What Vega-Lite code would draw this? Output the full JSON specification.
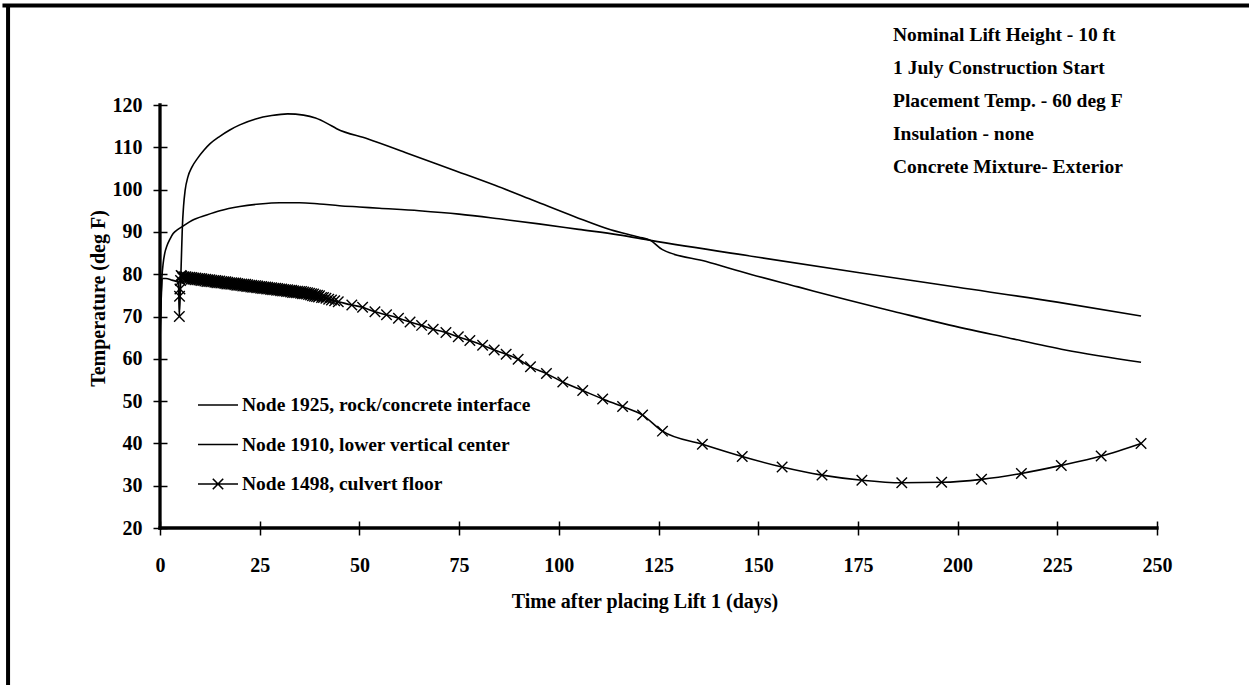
{
  "$schema": "https://vega.github.io/schema/vega-lite/v6.json",
  "width": 997,
  "height": 423,
  "autosize": {"type": "none"},
  "padding": {"left": 160, "top": 105, "right": 92, "bottom": 157},
  "background": "white",
  "config": {
    "view": {"stroke": null},
    "font": "Liberation Serif"
  },
  "title": {
    "text": ["Nominal Lift Height - 10 ft", "1 July Construction Start", "Placement Temp. - 60 deg F", "Insulation - none", "Concrete Mixture- Exterior"],
    "anchor": "start",
    "orient": "top",
    "frame": "group",
    "offset": -175,
    "dx": 733,
    "baseline": "top",
    "font": "Liberation Serif",
    "fontSize": 19.5,
    "fontWeight": "bold",
    "lineHeight": 33,
    "color": "black"
  },
  "datasets": {
    "temps": [
      {"series": "Node 1925, rock/concrete interface", "day": 0, "temp": 66},
      {"series": "Node 1925, rock/concrete interface", "day": 0.2, "temp": 73},
      {"series": "Node 1925, rock/concrete interface", "day": 0.5, "temp": 79.5},
      {"series": "Node 1925, rock/concrete interface", "day": 0.8, "temp": 82.6},
      {"series": "Node 1925, rock/concrete interface", "day": 1.2, "temp": 85},
      {"series": "Node 1925, rock/concrete interface", "day": 1.7, "temp": 86.6},
      {"series": "Node 1925, rock/concrete interface", "day": 2.5, "temp": 88.3},
      {"series": "Node 1925, rock/concrete interface", "day": 3.3, "temp": 89.6},
      {"series": "Node 1925, rock/concrete interface", "day": 4.5, "temp": 90.6},
      {"series": "Node 1925, rock/concrete interface", "day": 5.5, "temp": 91.2},
      {"series": "Node 1925, rock/concrete interface", "day": 8, "temp": 92.7},
      {"series": "Node 1925, rock/concrete interface", "day": 11.7, "temp": 94},
      {"series": "Node 1925, rock/concrete interface", "day": 15, "temp": 95},
      {"series": "Node 1925, rock/concrete interface", "day": 20, "temp": 96},
      {"series": "Node 1925, rock/concrete interface", "day": 25, "temp": 96.6},
      {"series": "Node 1925, rock/concrete interface", "day": 30, "temp": 96.9},
      {"series": "Node 1925, rock/concrete interface", "day": 35, "temp": 96.9},
      {"series": "Node 1925, rock/concrete interface", "day": 40, "temp": 96.6},
      {"series": "Node 1925, rock/concrete interface", "day": 45, "temp": 96.2},
      {"series": "Node 1925, rock/concrete interface", "day": 50, "temp": 95.9},
      {"series": "Node 1925, rock/concrete interface", "day": 55, "temp": 95.6},
      {"series": "Node 1925, rock/concrete interface", "day": 65, "temp": 95},
      {"series": "Node 1925, rock/concrete interface", "day": 75, "temp": 94.2},
      {"series": "Node 1925, rock/concrete interface", "day": 85, "temp": 93.1},
      {"series": "Node 1925, rock/concrete interface", "day": 95, "temp": 91.9},
      {"series": "Node 1925, rock/concrete interface", "day": 105, "temp": 90.6},
      {"series": "Node 1925, rock/concrete interface", "day": 115, "temp": 89.3},
      {"series": "Node 1925, rock/concrete interface", "day": 123, "temp": 88},
      {"series": "Node 1925, rock/concrete interface", "day": 150, "temp": 84},
      {"series": "Node 1925, rock/concrete interface", "day": 175, "temp": 80.4},
      {"series": "Node 1925, rock/concrete interface", "day": 200, "temp": 76.9},
      {"series": "Node 1925, rock/concrete interface", "day": 225, "temp": 73.4},
      {"series": "Node 1925, rock/concrete interface", "day": 246, "temp": 70.1},

      {"series": "Node 1910, lower vertical center", "day": 0, "temp": 64},
      {"series": "Node 1910, lower vertical center", "day": 0.3, "temp": 74},
      {"series": "Node 1910, lower vertical center", "day": 0.7, "temp": 79},
      {"series": "Node 1910, lower vertical center", "day": 1.5, "temp": 79},
      {"series": "Node 1910, lower vertical center", "day": 3, "temp": 78.6},
      {"series": "Node 1910, lower vertical center", "day": 4.6, "temp": 78.1},
      {"series": "Node 1910, lower vertical center", "day": 4.85, "temp": 71},
      {"series": "Node 1910, lower vertical center", "day": 5.1, "temp": 76},
      {"series": "Node 1910, lower vertical center", "day": 5.4, "temp": 85},
      {"series": "Node 1910, lower vertical center", "day": 5.6, "temp": 91},
      {"series": "Node 1910, lower vertical center", "day": 5.9, "temp": 96},
      {"series": "Node 1910, lower vertical center", "day": 6.3, "temp": 99.8},
      {"series": "Node 1910, lower vertical center", "day": 7, "temp": 103},
      {"series": "Node 1910, lower vertical center", "day": 8, "temp": 105.3},
      {"series": "Node 1910, lower vertical center", "day": 9.5, "temp": 107.5},
      {"series": "Node 1910, lower vertical center", "day": 11, "temp": 109.3},
      {"series": "Node 1910, lower vertical center", "day": 12.5, "temp": 110.8},
      {"series": "Node 1910, lower vertical center", "day": 15, "temp": 112.6},
      {"series": "Node 1910, lower vertical center", "day": 17.5, "temp": 114.1},
      {"series": "Node 1910, lower vertical center", "day": 20, "temp": 115.3},
      {"series": "Node 1910, lower vertical center", "day": 24, "temp": 116.7},
      {"series": "Node 1910, lower vertical center", "day": 28, "temp": 117.5},
      {"series": "Node 1910, lower vertical center", "day": 32, "temp": 117.9},
      {"series": "Node 1910, lower vertical center", "day": 36, "temp": 117.6},
      {"series": "Node 1910, lower vertical center", "day": 39, "temp": 116.9},
      {"series": "Node 1910, lower vertical center", "day": 42, "temp": 115.6},
      {"series": "Node 1910, lower vertical center", "day": 44.3, "temp": 114.4},
      {"series": "Node 1910, lower vertical center", "day": 52, "temp": 112},
      {"series": "Node 1910, lower vertical center", "day": 62, "temp": 108.6},
      {"series": "Node 1910, lower vertical center", "day": 73, "temp": 104.8},
      {"series": "Node 1910, lower vertical center", "day": 84, "temp": 101},
      {"series": "Node 1910, lower vertical center", "day": 94, "temp": 97.3},
      {"series": "Node 1910, lower vertical center", "day": 104, "temp": 93.6},
      {"series": "Node 1910, lower vertical center", "day": 113, "temp": 90.5},
      {"series": "Node 1910, lower vertical center", "day": 120, "temp": 88.8},
      {"series": "Node 1910, lower vertical center", "day": 123, "temp": 88},
      {"series": "Node 1910, lower vertical center", "day": 126, "temp": 85.8},
      {"series": "Node 1910, lower vertical center", "day": 137, "temp": 83},
      {"series": "Node 1910, lower vertical center", "day": 148, "temp": 80},
      {"series": "Node 1910, lower vertical center", "day": 160, "temp": 77},
      {"series": "Node 1910, lower vertical center", "day": 172, "temp": 74},
      {"series": "Node 1910, lower vertical center", "day": 184, "temp": 71.2},
      {"series": "Node 1910, lower vertical center", "day": 197, "temp": 68.2},
      {"series": "Node 1910, lower vertical center", "day": 212, "temp": 65.1},
      {"series": "Node 1910, lower vertical center", "day": 227, "temp": 62.1},
      {"series": "Node 1910, lower vertical center", "day": 246, "temp": 59.2},

      {"series": "Node 1498, culvert floor", "day": 4.85, "temp": 70},
      {"series": "Node 1498, culvert floor", "day": 4.9, "temp": 74.8},
      {"series": "Node 1498, culvert floor", "day": 5.0, "temp": 76.5},
      {"series": "Node 1498, culvert floor", "day": 5.15, "temp": 78.5},
      {"series": "Node 1498, culvert floor", "day": 5.3, "temp": 79.7},
      {"series": "Node 1498, culvert floor", "day": 5.5, "temp": 79.5},
      {"series": "Node 1498, culvert floor", "day": 5.75, "temp": 79.1},
      {"series": "Node 1498, culvert floor", "day": 6.0, "temp": 79.4},
      {"series": "Node 1498, culvert floor", "day": 6.25, "temp": 79.0},
      {"series": "Node 1498, culvert floor", "day": 6.5, "temp": 79.4},
      {"series": "Node 1498, culvert floor", "day": 6.75, "temp": 79.0},
      {"series": "Node 1498, culvert floor", "day": 7.0, "temp": 79.3},
      {"series": "Node 1498, culvert floor", "day": 7.25, "temp": 78.9},
      {"series": "Node 1498, culvert floor", "day": 7.5, "temp": 79.3},
      {"series": "Node 1498, culvert floor", "day": 7.75, "temp": 78.8},
      {"series": "Node 1498, culvert floor", "day": 8.0, "temp": 79.2},
      {"series": "Node 1498, culvert floor", "day": 8.25, "temp": 78.8},
      {"series": "Node 1498, culvert floor", "day": 8.5, "temp": 79.1},
      {"series": "Node 1498, culvert floor", "day": 8.75, "temp": 78.7},
      {"series": "Node 1498, culvert floor", "day": 9.0, "temp": 79.1},
      {"series": "Node 1498, culvert floor", "day": 9.25, "temp": 78.7},
      {"series": "Node 1498, culvert floor", "day": 9.5, "temp": 79.0},
      {"series": "Node 1498, culvert floor", "day": 9.75, "temp": 78.6},
      {"series": "Node 1498, culvert floor", "day": 10.0, "temp": 79.0},
      {"series": "Node 1498, culvert floor", "day": 10.25, "temp": 78.5},
      {"series": "Node 1498, culvert floor", "day": 10.5, "temp": 78.9},
      {"series": "Node 1498, culvert floor", "day": 10.75, "temp": 78.5},
      {"series": "Node 1498, culvert floor", "day": 11.0, "temp": 78.8},
      {"series": "Node 1498, culvert floor", "day": 11.25, "temp": 78.4},
      {"series": "Node 1498, culvert floor", "day": 11.5, "temp": 78.8},
      {"series": "Node 1498, culvert floor", "day": 11.75, "temp": 78.3},
      {"series": "Node 1498, culvert floor", "day": 12.0, "temp": 78.7},
      {"series": "Node 1498, culvert floor", "day": 12.25, "temp": 78.3},
      {"series": "Node 1498, culvert floor", "day": 12.5, "temp": 78.7},
      {"series": "Node 1498, culvert floor", "day": 12.75, "temp": 78.2},
      {"series": "Node 1498, culvert floor", "day": 13.0, "temp": 78.6},
      {"series": "Node 1498, culvert floor", "day": 13.25, "temp": 78.2},
      {"series": "Node 1498, culvert floor", "day": 13.5, "temp": 78.5},
      {"series": "Node 1498, culvert floor", "day": 13.75, "temp": 78.1},
      {"series": "Node 1498, culvert floor", "day": 14.0, "temp": 78.5},
      {"series": "Node 1498, culvert floor", "day": 14.25, "temp": 78.0},
      {"series": "Node 1498, culvert floor", "day": 14.5, "temp": 78.4},
      {"series": "Node 1498, culvert floor", "day": 14.75, "temp": 78.0},
      {"series": "Node 1498, culvert floor", "day": 15.0, "temp": 78.4},
      {"series": "Node 1498, culvert floor", "day": 15.25, "temp": 77.9},
      {"series": "Node 1498, culvert floor", "day": 15.5, "temp": 78.3},
      {"series": "Node 1498, culvert floor", "day": 15.75, "temp": 77.9},
      {"series": "Node 1498, culvert floor", "day": 16.0, "temp": 78.2},
      {"series": "Node 1498, culvert floor", "day": 16.25, "temp": 77.8},
      {"series": "Node 1498, culvert floor", "day": 16.5, "temp": 78.2},
      {"series": "Node 1498, culvert floor", "day": 16.75, "temp": 77.7},
      {"series": "Node 1498, culvert floor", "day": 17.0, "temp": 78.1},
      {"series": "Node 1498, culvert floor", "day": 17.25, "temp": 77.7},
      {"series": "Node 1498, culvert floor", "day": 17.5, "temp": 78.0},
      {"series": "Node 1498, culvert floor", "day": 17.75, "temp": 77.6},
      {"series": "Node 1498, culvert floor", "day": 18.0, "temp": 78.0},
      {"series": "Node 1498, culvert floor", "day": 18.25, "temp": 77.6},
      {"series": "Node 1498, culvert floor", "day": 18.5, "temp": 77.9},
      {"series": "Node 1498, culvert floor", "day": 18.75, "temp": 77.5},
      {"series": "Node 1498, culvert floor", "day": 19.0, "temp": 77.9},
      {"series": "Node 1498, culvert floor", "day": 19.25, "temp": 77.4},
      {"series": "Node 1498, culvert floor", "day": 19.5, "temp": 77.8},
      {"series": "Node 1498, culvert floor", "day": 19.75, "temp": 77.4},
      {"series": "Node 1498, culvert floor", "day": 20.0, "temp": 77.7},
      {"series": "Node 1498, culvert floor", "day": 20.25, "temp": 77.3},
      {"series": "Node 1498, culvert floor", "day": 20.5, "temp": 77.7},
      {"series": "Node 1498, culvert floor", "day": 20.75, "temp": 77.2},
      {"series": "Node 1498, culvert floor", "day": 21.0, "temp": 77.6},
      {"series": "Node 1498, culvert floor", "day": 21.25, "temp": 77.2},
      {"series": "Node 1498, culvert floor", "day": 21.5, "temp": 77.6},
      {"series": "Node 1498, culvert floor", "day": 21.75, "temp": 77.1},
      {"series": "Node 1498, culvert floor", "day": 22.0, "temp": 77.5},
      {"series": "Node 1498, culvert floor", "day": 22.25, "temp": 77.1},
      {"series": "Node 1498, culvert floor", "day": 22.5, "temp": 77.4},
      {"series": "Node 1498, culvert floor", "day": 22.75, "temp": 77.0},
      {"series": "Node 1498, culvert floor", "day": 23.0, "temp": 77.4},
      {"series": "Node 1498, culvert floor", "day": 23.25, "temp": 76.9},
      {"series": "Node 1498, culvert floor", "day": 23.5, "temp": 77.3},
      {"series": "Node 1498, culvert floor", "day": 23.75, "temp": 76.9},
      {"series": "Node 1498, culvert floor", "day": 24.0, "temp": 77.3},
      {"series": "Node 1498, culvert floor", "day": 24.25, "temp": 76.8},
      {"series": "Node 1498, culvert floor", "day": 24.5, "temp": 77.2},
      {"series": "Node 1498, culvert floor", "day": 24.75, "temp": 76.8},
      {"series": "Node 1498, culvert floor", "day": 25.0, "temp": 77.1},
      {"series": "Node 1498, culvert floor", "day": 25.25, "temp": 76.7},
      {"series": "Node 1498, culvert floor", "day": 25.5, "temp": 77.1},
      {"series": "Node 1498, culvert floor", "day": 25.75, "temp": 76.6},
      {"series": "Node 1498, culvert floor", "day": 26.0, "temp": 77.0},
      {"series": "Node 1498, culvert floor", "day": 26.25, "temp": 76.6},
      {"series": "Node 1498, culvert floor", "day": 26.5, "temp": 77.0},
      {"series": "Node 1498, culvert floor", "day": 26.75, "temp": 76.5},
      {"series": "Node 1498, culvert floor", "day": 27.0, "temp": 76.9},
      {"series": "Node 1498, culvert floor", "day": 27.25, "temp": 76.5},
      {"series": "Node 1498, culvert floor", "day": 27.5, "temp": 76.8},
      {"series": "Node 1498, culvert floor", "day": 27.75, "temp": 76.4},
      {"series": "Node 1498, culvert floor", "day": 28.0, "temp": 76.8},
      {"series": "Node 1498, culvert floor", "day": 28.25, "temp": 76.3},
      {"series": "Node 1498, culvert floor", "day": 28.5, "temp": 76.7},
      {"series": "Node 1498, culvert floor", "day": 28.75, "temp": 76.3},
      {"series": "Node 1498, culvert floor", "day": 29.0, "temp": 76.7},
      {"series": "Node 1498, culvert floor", "day": 29.25, "temp": 76.2},
      {"series": "Node 1498, culvert floor", "day": 29.5, "temp": 76.6},
      {"series": "Node 1498, culvert floor", "day": 29.75, "temp": 76.2},
      {"series": "Node 1498, culvert floor", "day": 30.0, "temp": 76.5},
      {"series": "Node 1498, culvert floor", "day": 30.25, "temp": 76.1},
      {"series": "Node 1498, culvert floor", "day": 30.5, "temp": 76.5},
      {"series": "Node 1498, culvert floor", "day": 30.75, "temp": 76.0},
      {"series": "Node 1498, culvert floor", "day": 31.0, "temp": 76.4},
      {"series": "Node 1498, culvert floor", "day": 31.25, "temp": 76.0},
      {"series": "Node 1498, culvert floor", "day": 31.5, "temp": 76.3},
      {"series": "Node 1498, culvert floor", "day": 31.75, "temp": 75.9},
      {"series": "Node 1498, culvert floor", "day": 32.0, "temp": 76.3},
      {"series": "Node 1498, culvert floor", "day": 32.25, "temp": 75.9},
      {"series": "Node 1498, culvert floor", "day": 32.5, "temp": 76.2},
      {"series": "Node 1498, culvert floor", "day": 32.75, "temp": 75.8},
      {"series": "Node 1498, culvert floor", "day": 33.0, "temp": 76.2},
      {"series": "Node 1498, culvert floor", "day": 33.25, "temp": 75.7},
      {"series": "Node 1498, culvert floor", "day": 33.5, "temp": 76.1},
      {"series": "Node 1498, culvert floor", "day": 33.75, "temp": 75.7},
      {"series": "Node 1498, culvert floor", "day": 34.0, "temp": 76.0},
      {"series": "Node 1498, culvert floor", "day": 34.25, "temp": 75.6},
      {"series": "Node 1498, culvert floor", "day": 34.5, "temp": 76.0},
      {"series": "Node 1498, culvert floor", "day": 34.75, "temp": 75.6},
      {"series": "Node 1498, culvert floor", "day": 35.0, "temp": 75.9},
      {"series": "Node 1498, culvert floor", "day": 35.25, "temp": 75.5},
      {"series": "Node 1498, culvert floor", "day": 35.5, "temp": 75.9},
      {"series": "Node 1498, culvert floor", "day": 35.75, "temp": 75.4},
      {"series": "Node 1498, culvert floor", "day": 36.0, "temp": 75.8},
      {"series": "Node 1498, culvert floor", "day": 36.25, "temp": 75.4},
      {"series": "Node 1498, culvert floor", "day": 36.5, "temp": 75.7},
      {"series": "Node 1498, culvert floor", "day": 36.75, "temp": 75.3},
      {"series": "Node 1498, culvert floor", "day": 37.0, "temp": 75.6},
      {"series": "Node 1498, culvert floor", "day": 37.25, "temp": 75.2},
      {"series": "Node 1498, culvert floor", "day": 37.5, "temp": 75.5},
      {"series": "Node 1498, culvert floor", "day": 37.75, "temp": 75.1},
      {"series": "Node 1498, culvert floor", "day": 38.0, "temp": 75.4},
      {"series": "Node 1498, culvert floor", "day": 38.25, "temp": 74.9},
      {"series": "Node 1498, culvert floor", "day": 38.5, "temp": 75.3},
      {"series": "Node 1498, culvert floor", "day": 38.75, "temp": 74.8},
      {"series": "Node 1498, culvert floor", "day": 39.0, "temp": 75.1},
      {"series": "Node 1498, culvert floor", "day": 39.25, "temp": 74.7},
      {"series": "Node 1498, culvert floor", "day": 39.5, "temp": 75.0},
      {"series": "Node 1498, culvert floor", "day": 39.75, "temp": 74.6},
      {"series": "Node 1498, culvert floor", "day": 40.0, "temp": 74.9},
      {"series": "Node 1498, culvert floor", "day": 40.5, "temp": 74.5},
      {"series": "Node 1498, culvert floor", "day": 41.0, "temp": 74.5},
      {"series": "Node 1498, culvert floor", "day": 41.6, "temp": 74.3},
      {"series": "Node 1498, culvert floor", "day": 42.3, "temp": 74.1},
      {"series": "Node 1498, culvert floor", "day": 43.0, "temp": 73.9},
      {"series": "Node 1498, culvert floor", "day": 43.8, "temp": 73.7},
      {"series": "Node 1498, culvert floor", "day": 44.7, "temp": 73.5},
      {"series": "Node 1498, culvert floor", "day": 48.1, "temp": 72.7},
      {"series": "Node 1498, culvert floor", "day": 50.8, "temp": 72.2},
      {"series": "Node 1498, culvert floor", "day": 53.9, "temp": 71.1},
      {"series": "Node 1498, culvert floor", "day": 56.8, "temp": 70.4},
      {"series": "Node 1498, culvert floor", "day": 59.8, "temp": 69.6},
      {"series": "Node 1498, culvert floor", "day": 62.7, "temp": 68.7},
      {"series": "Node 1498, culvert floor", "day": 65.6, "temp": 67.9},
      {"series": "Node 1498, culvert floor", "day": 68.5, "temp": 67.0},
      {"series": "Node 1498, culvert floor", "day": 71.7, "temp": 66.2},
      {"series": "Node 1498, culvert floor", "day": 74.8, "temp": 65.2},
      {"series": "Node 1498, culvert floor", "day": 77.7, "temp": 64.3},
      {"series": "Node 1498, culvert floor", "day": 80.9, "temp": 63.2},
      {"series": "Node 1498, culvert floor", "day": 83.8, "temp": 62.1},
      {"series": "Node 1498, culvert floor", "day": 86.8, "temp": 61.1},
      {"series": "Node 1498, culvert floor", "day": 89.8, "temp": 59.9},
      {"series": "Node 1498, culvert floor", "day": 92.9, "temp": 58.1},
      {"series": "Node 1498, culvert floor", "day": 96.9, "temp": 56.5},
      {"series": "Node 1498, culvert floor", "day": 101, "temp": 54.5},
      {"series": "Node 1498, culvert floor", "day": 106, "temp": 52.5},
      {"series": "Node 1498, culvert floor", "day": 111, "temp": 50.5},
      {"series": "Node 1498, culvert floor", "day": 116, "temp": 48.7},
      {"series": "Node 1498, culvert floor", "day": 121, "temp": 46.7},
      {"series": "Node 1498, culvert floor", "day": 126, "temp": 42.9},
      {"series": "Node 1498, culvert floor", "day": 136, "temp": 39.8},
      {"series": "Node 1498, culvert floor", "day": 146, "temp": 36.9},
      {"series": "Node 1498, culvert floor", "day": 156, "temp": 34.4},
      {"series": "Node 1498, culvert floor", "day": 166, "temp": 32.5},
      {"series": "Node 1498, culvert floor", "day": 176, "temp": 31.3},
      {"series": "Node 1498, culvert floor", "day": 186, "temp": 30.7},
      {"series": "Node 1498, culvert floor", "day": 196, "temp": 30.8},
      {"series": "Node 1498, culvert floor", "day": 206, "temp": 31.5},
      {"series": "Node 1498, culvert floor", "day": 216, "temp": 32.9},
      {"series": "Node 1498, culvert floor", "day": 226, "temp": 34.8},
      {"series": "Node 1498, culvert floor", "day": 236, "temp": 37.0},
      {"series": "Node 1498, culvert floor", "day": 246, "temp": 40.0}
    ]
  },
  "data": {"name": "temps"},
  "layer": [
    {
      "data": {"values": [{}]},
      "mark": {"type": "rule", "clip": false, "color": "black", "strokeWidth": 4, "strokeCap": "square"},
      "encoding": {
        "x": {"datum": -39, "type": "quantitative"},
        "x2": {"datum": 300},
        "y": {"datum": 143.5, "type": "quantitative"}
      }
    },
    {
      "data": {"values": [{}]},
      "mark": {"type": "rule", "clip": false, "color": "black", "strokeWidth": 4},
      "encoding": {
        "x": {"datum": -38.1, "type": "quantitative"},
        "y": {"datum": 143.5, "type": "quantitative"},
        "y2": {"datum": -20}
      }
    },
    {
      "data": {"values": [{}]},
      "mark": {"type": "rule", "color": "black", "strokeWidth": 3.3, "strokeCap": "square"},
      "encoding": {"x": {"datum": 0, "type": "quantitative"}}
    },
    {
      "data": {"values": [{}]},
      "mark": {"type": "rule", "color": "black", "strokeWidth": 3.3, "strokeCap": "square"},
      "encoding": {"y": {"datum": 20, "type": "quantitative"}}
    },
    {
      "mark": {"type": "line", "strokeWidth": 1.6, "interpolate": "monotone"},
      "encoding": {
        "x": {
          "field": "day", "type": "quantitative",
          "scale": {"domain": [0, 250], "nice": false, "zero": false},
          "axis": {
            "values": [0, 25, 50, 75, 100, 125, 150, 175, 200, 225, 250],
            "domain": false, "grid": false, "offset": -7,
            "tickSize": 14, "tickWidth": 1.5, "tickColor": "black",
            "labelFont": "Liberation Serif", "labelFontSize": 20, "labelFontWeight": "bold", "labelColor": "black",
            "labelPadding": 20, "labelFlush": false, "labelOverlap": false,
            "title": "Time after placing Lift 1 (days)",
            "titleFont": "Liberation Serif", "titleFontSize": 20, "titleFontWeight": "bold", "titleColor": "black",
            "titleX": 484.5, "titleY": 86, "titleBaseline": "alphabetic", "titleAlign": "center"
          }
        },
        "y": {
          "field": "temp", "type": "quantitative",
          "scale": {"domain": [20, 120], "nice": false, "zero": false},
          "axis": {
            "values": [20, 30, 40, 50, 60, 70, 80, 90, 100, 110, 120],
            "domain": false, "grid": false, "offset": -7,
            "tickSize": 14, "tickWidth": 1.5, "tickColor": "black",
            "labelFont": "Liberation Serif", "labelFontSize": 20, "labelFontWeight": "bold", "labelColor": "black",
            "labelPadding": 11, "labelFlush": false, "labelOverlap": false,
            "title": "Temperature (deg F)",
            "titleFont": "Liberation Serif", "titleFontSize": 20, "titleFontWeight": "bold", "titleColor": "black",
            "titleX": -69, "titleY": 193, "titleBaseline": "middle", "titleAlign": "center", "titleAngle": -90
          }
        },
        "color": {
          "field": "series", "type": "nominal",
          "scale": {
            "domain": ["Node 1925, rock/concrete interface", "Node 1910, lower vertical center", "Node 1498, culvert floor"],
            "range": ["black", "black", "black"]
          },
          "legend": {
            "orient": "none", "legendX": 37, "legendY": 279, "title": null, "padding": 0,
            "symbolType": "stroke", "symbolSize": 1600, "symbolStrokeWidth": 1.6, "symbolStrokeColor": "black",
            "labelFont": "Liberation Serif", "labelFontSize": 19.5, "labelFontWeight": "bold", "labelColor": "black",
            "labelOffset": 3, "rowPadding": 8.5,
            "labelLimit": 400,
            "encode": {
              "symbols": {
                "update": {
                  "shape": {"signal": "datum.value === 'Node 1498, culvert floor' ? 'M-1,0H1M-0.26,-0.26L0.26,0.26M-0.26,0.26L0.26,-0.26' : 'stroke'"}
                }
              }
            }
          }
        },
        "detail": {"field": "series", "type": "nominal"}
      }
    },
    {
      "transform": [{"filter": "datum.series === 'Node 1498, culvert floor'"}],
      "mark": {"type": "point", "shape": "M-1,-1L1,1M-1,1L1,-1", "filled": false, "stroke": "black", "strokeWidth": 1.4, "size": 110, "opacity": 1},
      "encoding": {
        "x": {"field": "day", "type": "quantitative"},
        "y": {"field": "temp", "type": "quantitative"}
      }
    }
  ]
}
